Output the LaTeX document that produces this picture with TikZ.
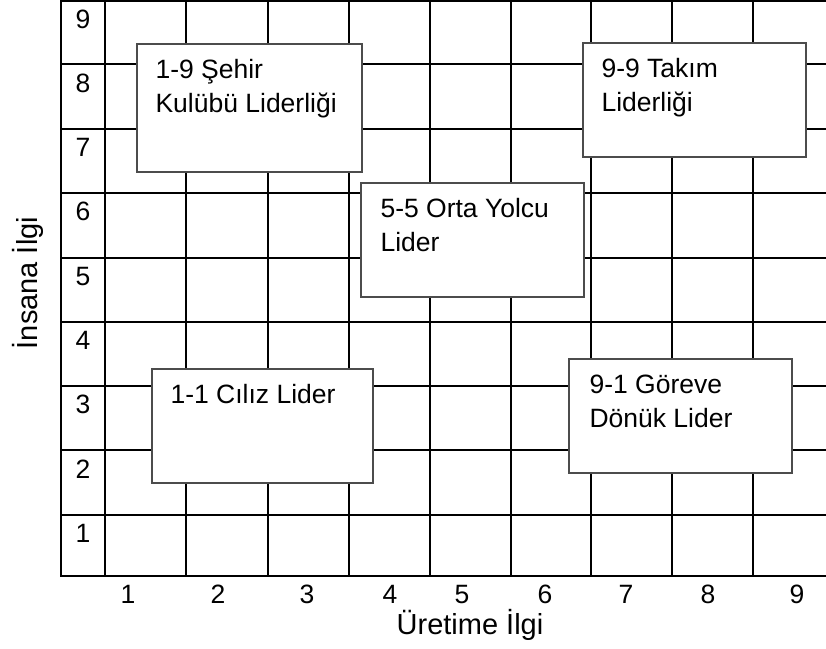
\documentclass[tikz,border=0pt]{standalone}
\usepackage{fontspec}
\setmainfont{Liberation Sans}
\begin{document}
\begin{tikzpicture}[x=1pt,y=-1pt,
  gridline/.style={line width=2pt,black},
  stylebox/.style={draw=black!70,line width=1.3pt,fill=white,rectangle,inner sep=0pt},
  boxtext/.style={anchor=base west,inner sep=0pt,
    font=\fontsize{26.5}{34.5}\selectfont},
  ticklabel/.style={anchor=base,inner sep=0pt,font=\fontsize{26.5}{30}\selectfont},
  axistitle/.style={anchor=base,inner sep=0pt,font=\fontsize{29}{33}\selectfont}]
\useasboundingbox (0,0) rectangle (826,648);

% grid
\foreach \x in {61,105,186,268,349,430,511,591,672,753}
  \draw[gridline] (\x,0) -- (\x,577);
\foreach \y in {1,64,129,193,258,322,386,450,515,576}
  \draw[gridline] (60,\y) -- (826,\y);

% row numbers (people concern)
\foreach \n [count=\i from 0] in {9,8,7,6,5,4,3,2,1}
  \node[ticklabel] (r\n) at (83,{\i*64.3+28}) {\n};

% column numbers (production concern)
\foreach \x [count=\n] in {128,218,307,390,462,545,626,708,797}
  \node[ticklabel] (c\n) at (\x,603) {\n};

% axis titles
\node[axistitle] (xtitle) at (470,634) {Üretime İlgi};
\node[axistitle,rotate=90] (ytitle) at (37,283) {İnsana İlgi};

% leadership style boxes
\node[stylebox,minimum width=225pt,minimum height=128pt] (b19) at (249.5,108) {};
\node[stylebox,minimum width=223pt,minimum height=114pt] (b99) at (694.5,100) {};
\node[stylebox,minimum width=223pt,minimum height=114pt] (b55) at (472.5,240) {};
\node[stylebox,minimum width=221pt,minimum height=114pt] (b11) at (262.5,426) {};
\node[stylebox,minimum width=223pt,minimum height=114pt] (b91) at (680.5,416) {};

% box captions, one node per line
\node[boxtext] (t19a) at ([shift={(19,35)}]b19.north west) {1-9 Şehir};
\node[boxtext] (t19b) at ([shift={(19,69.5)}]b19.north west) {Kulübü Liderliği};
\node[boxtext] (t99a) at ([shift={(19,35)}]b99.north west) {9-9 Takım};
\node[boxtext] (t99b) at ([shift={(19,69.5)}]b99.north west) {Liderliği};
\node[boxtext] (t55a) at ([shift={(20,35)}]b55.north west) {5-5 Orta Yolcu};
\node[boxtext] (t55b) at ([shift={(20,69.5)}]b55.north west) {Lider};
\node[boxtext] (t11a) at ([shift={(19,35)}]b11.north west) {1-1 Cılız Lider};
\node[boxtext] (t91a) at ([shift={(21,35)}]b91.north west) {9-1 Göreve};
\node[boxtext] (t91b) at ([shift={(21,69.5)}]b91.north west) {Dönük Lider};
\end{tikzpicture}
\end{document}
